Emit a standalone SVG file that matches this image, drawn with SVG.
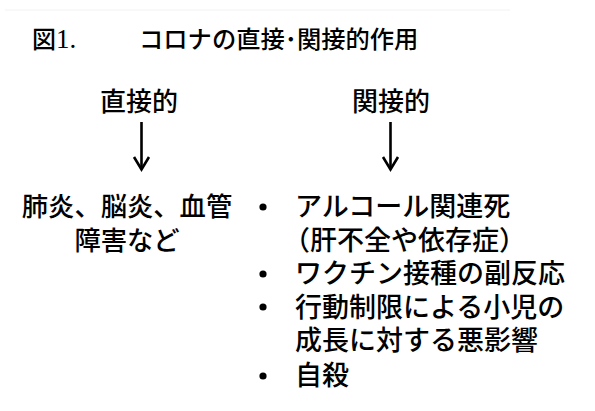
<svg xmlns="http://www.w3.org/2000/svg" width="595" height="411" viewBox="0 0 595 411">
<style>
.t{font-family:"Noto Sans CJK JP","Noto Sans",sans-serif;font-weight:500;fill:#000}
.h{font-size:26px}
.b{font-size:27px}
.arr{stroke:#000;stroke-width:2.6;fill:none;stroke-linecap:butt}
</style>
<rect width="595" height="411" fill="#fff"/>
<line x1="5" y1="10" x2="510" y2="10" stroke="#f2f2f2" stroke-width="1"/>
<g id="title">
<text class="t" x="32" y="48" font-size="24"><tspan>図</tspan><tspan font-family="'Liberation Serif',serif" font-weight="400" font-size="27">1.</tspan></text>
<text class="t" x="139" y="48" font-size="24.3">コロナの直接･関接的作用</text>
</g>
<g id="direct">
<text class="t h" x="139" y="111" text-anchor="middle">直接的</text>
</g>
<g id="indirect">
<text class="t h" x="391" y="111" text-anchor="middle">関接的</text>
</g>
<g id="connectors">
<line class="arr" x1="141.5" y1="122" x2="141.5" y2="169"/>
<polyline class="arr" points="134,157 141.5,169.5 149,157"/>
<line class="arr" x1="390.5" y1="122" x2="390.5" y2="169"/>
<polyline class="arr" points="383,157 390.5,169.5 398,157"/>
</g>
<g id="direct-effects">
<text class="t" x="127" y="216" font-size="26.3" text-anchor="middle">肺炎、脳炎、血管</text>
<text class="t" x="127" y="250" font-size="26.3" text-anchor="middle">障害など</text>
</g>
<g id="indirect-effects">
<circle cx="263" cy="207" r="3.6"/>
<circle cx="263" cy="274" r="3.6"/>
<circle cx="263" cy="307" r="3.6"/>
<circle cx="263" cy="376" r="3.6"/>
<text class="t b" x="295" y="216">アルコール関連死</text>
<text class="t b" x="283" y="250">（肝不全や依存症）</text>
<text class="t b" x="295" y="283">ワクチン接種の副反応</text>
<text class="t b" x="295" y="317">行動制限による小児の</text>
<text class="t b" x="295" y="350">成長に対する悪影響</text>
<text class="t b" x="295" y="385">自殺</text>
</g>
</svg>
